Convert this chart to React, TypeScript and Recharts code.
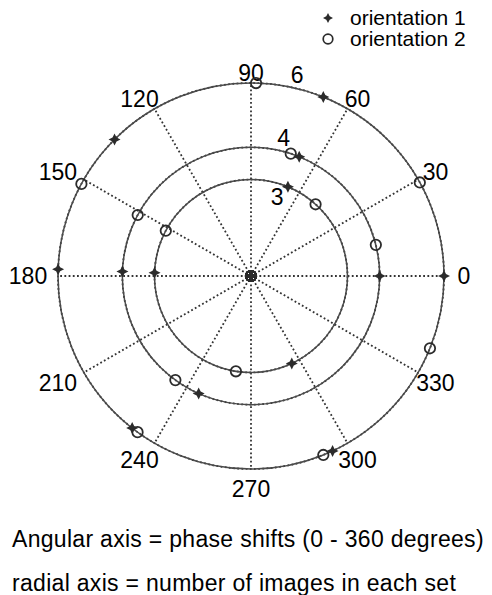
import { RadarChart, Radar, PolarGrid, PolarAngleAxis, PolarRadiusAxis } from "recharts";

// phase shift (degrees) of each spoke, and the radial rings (number of images)
const PHASE_TICKS = [0, 30, 60, 90, 120, 150, 180, 210, 240, 270, 300, 330];
const IMAGE_TICKS = [3, 4, 6];

// orientation 1 (star markers): phase shift in degrees, number of images
const ORIENT1_PHASE = [68, 68, 67.5, 0, 0, 295, 295, 246, 232, 178, 178, 178, 135];
const ORIENT1_IMAGES = [6, 4, 3, 6, 4, 3, 6, 4, 6, 6, 4, 3, 6];

// orientation 2 (circle markers)
const ORIENT2_PHASE = [88.5, 72, 48, 29, 14, 338, 292, 234, 234, 261, 151.5, 151.7, 152];
const ORIENT2_IMAGES = [6, 4, 3, 6, 4, 6, 6, 6, 4, 3, 6, 4, 3];

const data = [
  ...ORIENT1_PHASE.map((phase, i) => ({ phase, o1: ORIENT1_IMAGES[i] })),
  ...ORIENT2_PHASE.map((phase, i) => ({ phase, o2: ORIENT2_IMAGES[i] })),
];

const FONT = '"Liberation Sans", Arial, Helvetica, sans-serif';
const INK = "#2b2b2b";

function starPath(cx: number, cy: number, r = 6, k = 2) {
  return `M${cx},${cy - r} L${cx + k},${cy - k} L${cx + r},${cy} L${cx + k},${cy + k} L${cx},${cy + r} L${cx - k},${cy + k} L${cx - r},${cy} L${cx - k},${cy - k} Z`;
}

function StarDot(props: any) {
  const { cx, cy } = props;
  if (!Number.isFinite(cx) || !Number.isFinite(cy)) return <g />;
  return <path d={starPath(cx, cy)} fill={INK} />;
}

function RingDot(props: any) {
  const { cx, cy } = props;
  if (!Number.isFinite(cx) || !Number.isFinite(cy)) return <g />;
  return <circle cx={cx} cy={cy} r={5.2} fill="none" stroke={INK} strokeWidth={1.8} />;
}

function AngleTick(props: any) {
  const { x, y, payload } = props;
  if (!PHASE_TICKS.includes(payload.value)) return <g />;
  const rad = (payload.coordinate * Math.PI) / 180;
  const dx = -10 * Math.max(0, -Math.cos(rad));
  const dy = 10 * Math.max(0, Math.sin(rad)) ** 2;
  return (
    <text x={x + dx} y={y + dy} textAnchor="middle" dominantBaseline="central" fontFamily={FONT} fontSize={23} fill="#000">
      {payload.value}
    </text>
  );
}

function RadiusTick(props: any) {
  const { x, y, payload } = props;
  return (
    <text x={x + 6} y={y + (payload.value === 3 ? 15 : -12)} textAnchor="middle" dominantBaseline="central" fontFamily={FONT} fontSize={23} fill="#000">
      {payload.value}
    </text>
  );
}

export default function App() {
  return (
    <div style={{ position: "absolute", left: 0, top: 0, width: 492, height: 595, background: "#fff", fontFamily: FONT }}>
      <RadarChart width={492} height={515} data={data} cx={251} cy={276} outerRadius={193} innerRadius={0} startAngle={0} endAngle={360} margin={{ top: 0, right: 0, bottom: 0, left: 0 }}>
        <PolarGrid gridType="circle" stroke="#333" strokeWidth={1.8} strokeDasharray="1.8 2.4" />
        <PolarGrid gridType="circle" radialLines={false} stroke="#4a4a4a" strokeWidth={1.5} />
        <PolarAngleAxis dataKey="phase" type="number" domain={[0, 360]} ticks={PHASE_TICKS} tickCount={13} axisLine={false} tickLine={false} tickSize={20} tick={<AngleTick />} />
        <PolarRadiusAxis type="number" domain={[0, 6]} ticks={IMAGE_TICKS} angle={78} axisLine={false} tickLine={false} tick={<RadiusTick />} />
        <Radar dataKey="o1" stroke="none" fill="none" dot={<StarDot />} isAnimationActive={false} />
        <Radar dataKey="o2" stroke="none" fill="none" dot={<RingDot />} isAnimationActive={false} />
      </RadarChart>

      {/* legend */}
      <svg width={170} height={52} style={{ position: "absolute", left: 322, top: 0 }}>
        <path d={starPath(6, 18, 5, 1.7)} fill={INK} />
        <circle cx={6} cy={39} r={4.8} fill="none" stroke={INK} strokeWidth={1.7} />
        <text x={28} y={25} fontFamily={FONT} fontSize={21} fill="#000">orientation 1</text>
        <text x={28} y={46} fontFamily={FONT} fontSize={21} fill="#000">orientation 2</text>
      </svg>

      <div style={{ position: "absolute", left: 12, top: 526, fontSize: 23, letterSpacing: 0.3, color: "#000", whiteSpace: "nowrap", lineHeight: "27px" }}>
        Angular axis = phase shifts (0 - 360 degrees)
      </div>
      <div style={{ position: "absolute", left: 12, top: 570, fontSize: 23, letterSpacing: 0.3, color: "#000", whiteSpace: "nowrap", lineHeight: "27px" }}>
        radial axis = number of images in each set
      </div>
    </div>
  );
}
